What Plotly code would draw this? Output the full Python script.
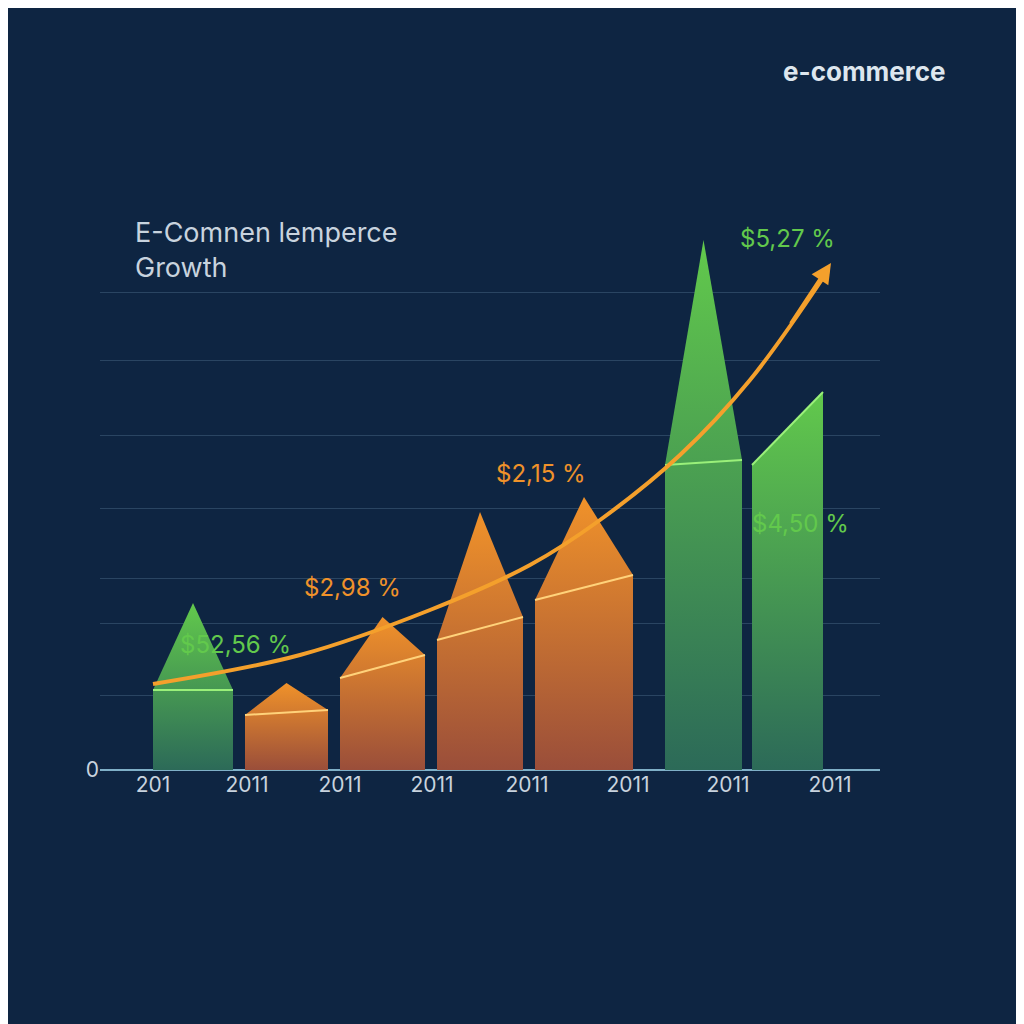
import plotly.graph_objects as go

# data
tick_labels = ["201", "2011", "2011", "2011", "2011", "2011", "2011", "2011"]
tick_pos = [153, 247, 340, 432, 527, 628, 728, 830]
bar_left = [153, 245, 340, 437, 535, 665, 752]
bar_right = [233, 328, 425, 523, 633, 742, 823]
body_left = [0.80, 0.55, 0.92, 1.30, 1.70, 3.05, 3.05]
body_right = [0.80, 0.60, 1.15, 1.53, 1.95, 3.10, 3.78]
peak = [1.67, 0.87, 1.53, 2.58, 2.73, 5.30, 3.78]
peak_frac = [0.5, 0.5, 0.5, 0.5, 0.5, 0.5, 1.0]
bar_kind = ["g", "o", "o", "o", "o", "g", "g"]
curve_x = [153, 300, 430, 530, 600, 680, 750, 825]
curve_y = [0.86, 1.15, 1.60, 2.05, 2.50, 3.15, 3.90, 4.95]
labels = ["$52,56 %", "$2,98 %", "$2,15 %", "$5,27 %", "$4,50 %"]
label_x = [235, 352, 541, 787, 800]
label_y = [1.26, 1.83, 2.97, 5.32, 2.47]
label_kind = ["g", "o", "o", "g", "g"]
grid_vals = [0.75, 1.47, 1.92, 2.62, 3.35, 4.10, 4.78]

GREEN = "#62c94c"
ORANGE = "#f0922a"
col = {"g": GREEN, "o": ORANGE}
dark = {"g": "#2c6a58", "o": "#9a4e3a"}

fig = go.Figure()
for i in range(len(bar_left)):
    l, r = bar_left[i], bar_right[i]
    px = l + (r - l) * peak_frac[i]
    xs = [l, l, px, r, r, l]
    ys = [0, body_left[i], peak[i], body_right[i], 0, 0]
    c = col[bar_kind[i]]
    fig.add_trace(go.Scatter(
        x=xs, y=ys, fill="toself", mode="lines", line=dict(width=0),
        fillgradient=dict(type="vertical",
                          colorscale=[[0, dark[bar_kind[i]]], [1, c]]),
        hoverinfo="skip", showlegend=False))
    fig.add_trace(go.Scatter(
        x=[l, r], y=[body_left[i], body_right[i]], mode="lines",
        line=dict(color="#ffd27a" if bar_kind[i] == "o" else "#9af07a", width=2),
        hoverinfo="skip", showlegend=False))

fig.add_trace(go.Scatter(x=curve_x, y=curve_y, mode="lines",
                         line=dict(color="#f4a02c", width=4, shape="spline"),
                         showlegend=False))
fig.add_annotation(x=curve_x[-1] + 6, y=curve_y[-1] + 0.12, ax=curve_x[-2] + 40,
                   ay=curve_y[-2] + 0.55, xref="x", yref="y", axref="x", ayref="y",
                   showarrow=True, arrowhead=2, arrowsize=1, arrowwidth=4,
                   arrowcolor="#f4a02c", text="")

for t, x, y, k in zip(labels, label_x, label_y, label_kind):
    fig.add_annotation(x=x, y=y, text=t, showarrow=False, xref="x", yref="y",
                       font=dict(size=24, color=col[k], family="Inter"))

fig.add_annotation(x=0.042, y=0.975, xref="paper", yref="paper", xanchor="left",
                   yanchor="top", align="left", showarrow=False,
                   text="E-Comnen lemperce<br>Growth",
                   font=dict(size=27, color="#c8d3de", family="Inter"))
fig.add_annotation(x=1.087, y=1.225, xref="paper", yref="paper", xanchor="right",
                   yanchor="middle", showarrow=False, text="<b>e-commerce</b>",
                   font=dict(size=26, color="#dde6ee", family="Inter"))

fig.update_layout(
    width=1024, height=1024, paper_bgcolor="#0e2542", plot_bgcolor="#0e2542",
    margin=dict(l=92, r=152, t=192, b=262),
    xaxis=dict(range=[100, 880], tickvals=tick_pos, ticktext=tick_labels,
               showgrid=False, zeroline=False, ticks="",
               tickfont=dict(size=21, color="#c8d3de", family="Inter")),
    yaxis=dict(range=[0, 5.7], tickvals=[0] + grid_vals,
               ticktext=["0"] + [""] * len(grid_vals),
               gridcolor="#2a4562", gridwidth=1, zeroline=True,
               zerolinecolor="#7fb0c8", zerolinewidth=2, ticks="",
               tickfont=dict(size=21, color="#c8d3de", family="Inter")),
)
fig.write_html("out.html")
